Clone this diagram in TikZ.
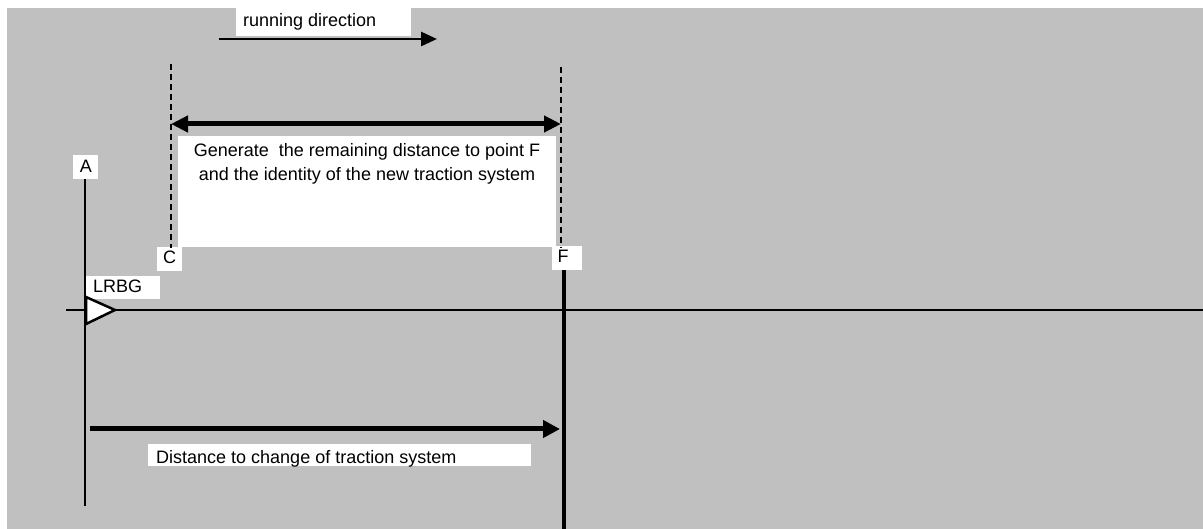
\documentclass[tikz,border=0pt]{standalone}
\usepackage{fontspec}
\setmainfont{Liberation Sans}
\usetikzlibrary{arrows.meta}
\definecolor{bggray}{HTML}{C0C0C0}
\tikzset{
  txt/.style={inner sep=0pt, font=\fontsize{18}{21}\selectfont},
  wbox/.style={fill=white, draw=none, inner sep=0pt, anchor=north west},
  dashline/.style={draw=black, line width=1.6pt, dash pattern=on 6pt off 4pt},
  thinline/.style={draw=black, line width=2.5pt},
  bigarrow/.style={draw=black, line width=5pt, -{Triangle[length=17pt,width=17pt]}},
  dblarrow/.style={draw=black, line width=5pt, {Triangle[length=17pt,width=16pt]}-{Triangle[length=17pt,width=16pt]}},
  runarrow/.style={draw=black, line width=2.8pt, -{Triangle[length=16pt,width=14pt]}},
}
\begin{document}
\begin{tikzpicture}[x=1pt,y=-1pt]
\useasboundingbox (0,0) rectangle (1203,529);
\fill[bggray] (7,8) rectangle (1203,529);

% white label boxes
\node[wbox, minimum width=175pt, minimum height=36pt] (rdbox) at (236,0) {};
\node[wbox, minimum width=378pt, minimum height=111pt] (genbox) at (178,136) {};
\node[wbox, minimum width=25pt, minimum height=24pt] (Abox) at (73,155) {};
\node[wbox, minimum width=25pt, minimum height=24pt] (Cbox) at (157,247) {};
\node[wbox, minimum width=30pt, minimum height=24pt] (Fbox) at (552,246) {};
\node[wbox, minimum width=74pt, minimum height=23pt] (Lbox) at (86,276) {};
\node[wbox, minimum width=383pt, minimum height=22pt] (dbox) at (148,444) {};

% texts
\node[txt, anchor=base west] (rdtext) at (243,27) {running direction};
\node[txt, anchor=base] (gen1) at (367,157) {Generate\ \ the remaining distance to point F};
\node[txt, anchor=base] (gen2) at (367,181) {and the identity of the new traction system};
\node[txt, anchor=base] (Atext) at (86,173) {A};
\node[txt, anchor=base] (Ctext) at (169.5,264) {C};
\node[txt, anchor=base] (Ftext) at (563,263) {F};
\node[txt, anchor=base west] (Ltext) at (93,293) {LRBG};
\node[txt, anchor=base west] (dtext) at (156,463) {Distance to change of traction system};

% coordinates
\coordinate (rd1) at (219,39);
\coordinate (rd2) at (437,39);
\coordinate (C1) at (171,64);
\coordinate (C2) at (171,248);
\coordinate (F1) at (561,67);
\coordinate (F2) at (561,248);
\coordinate (dbl1) at (171,124);
\coordinate (dbl2) at (561,124);
\coordinate (A1) at (85,179);
\coordinate (A2) at (85,506);
\coordinate (h1) at (66,310);
\coordinate (h2) at (1203,310);
\coordinate (Fs1) at (563.5,270);
\coordinate (Fs2) at (563.5,529);
\coordinate (b1) at (90,429);
\coordinate (b2) at (560,429);

% connectors
\draw[runarrow] (rd1) -- (rd2);
\draw[dashline] (C1) -- (C2);
\draw[dashline] (F1) -- (F2);
\draw[dblarrow] (dbl1) -- (dbl2);
\draw[thinline] (h1) -- (h2);
\draw[thinline] (A1) -- (A2);
\draw[draw=black, line width=4pt] (Fs1) -- (Fs2);
\draw[bigarrow] (b1) -- (b2);

% LRBG triangle
\draw[fill=white, line width=2.5pt, line join=miter] (86,297) -- (115,310) -- (86,324) -- cycle;
\end{tikzpicture}
\end{document}
